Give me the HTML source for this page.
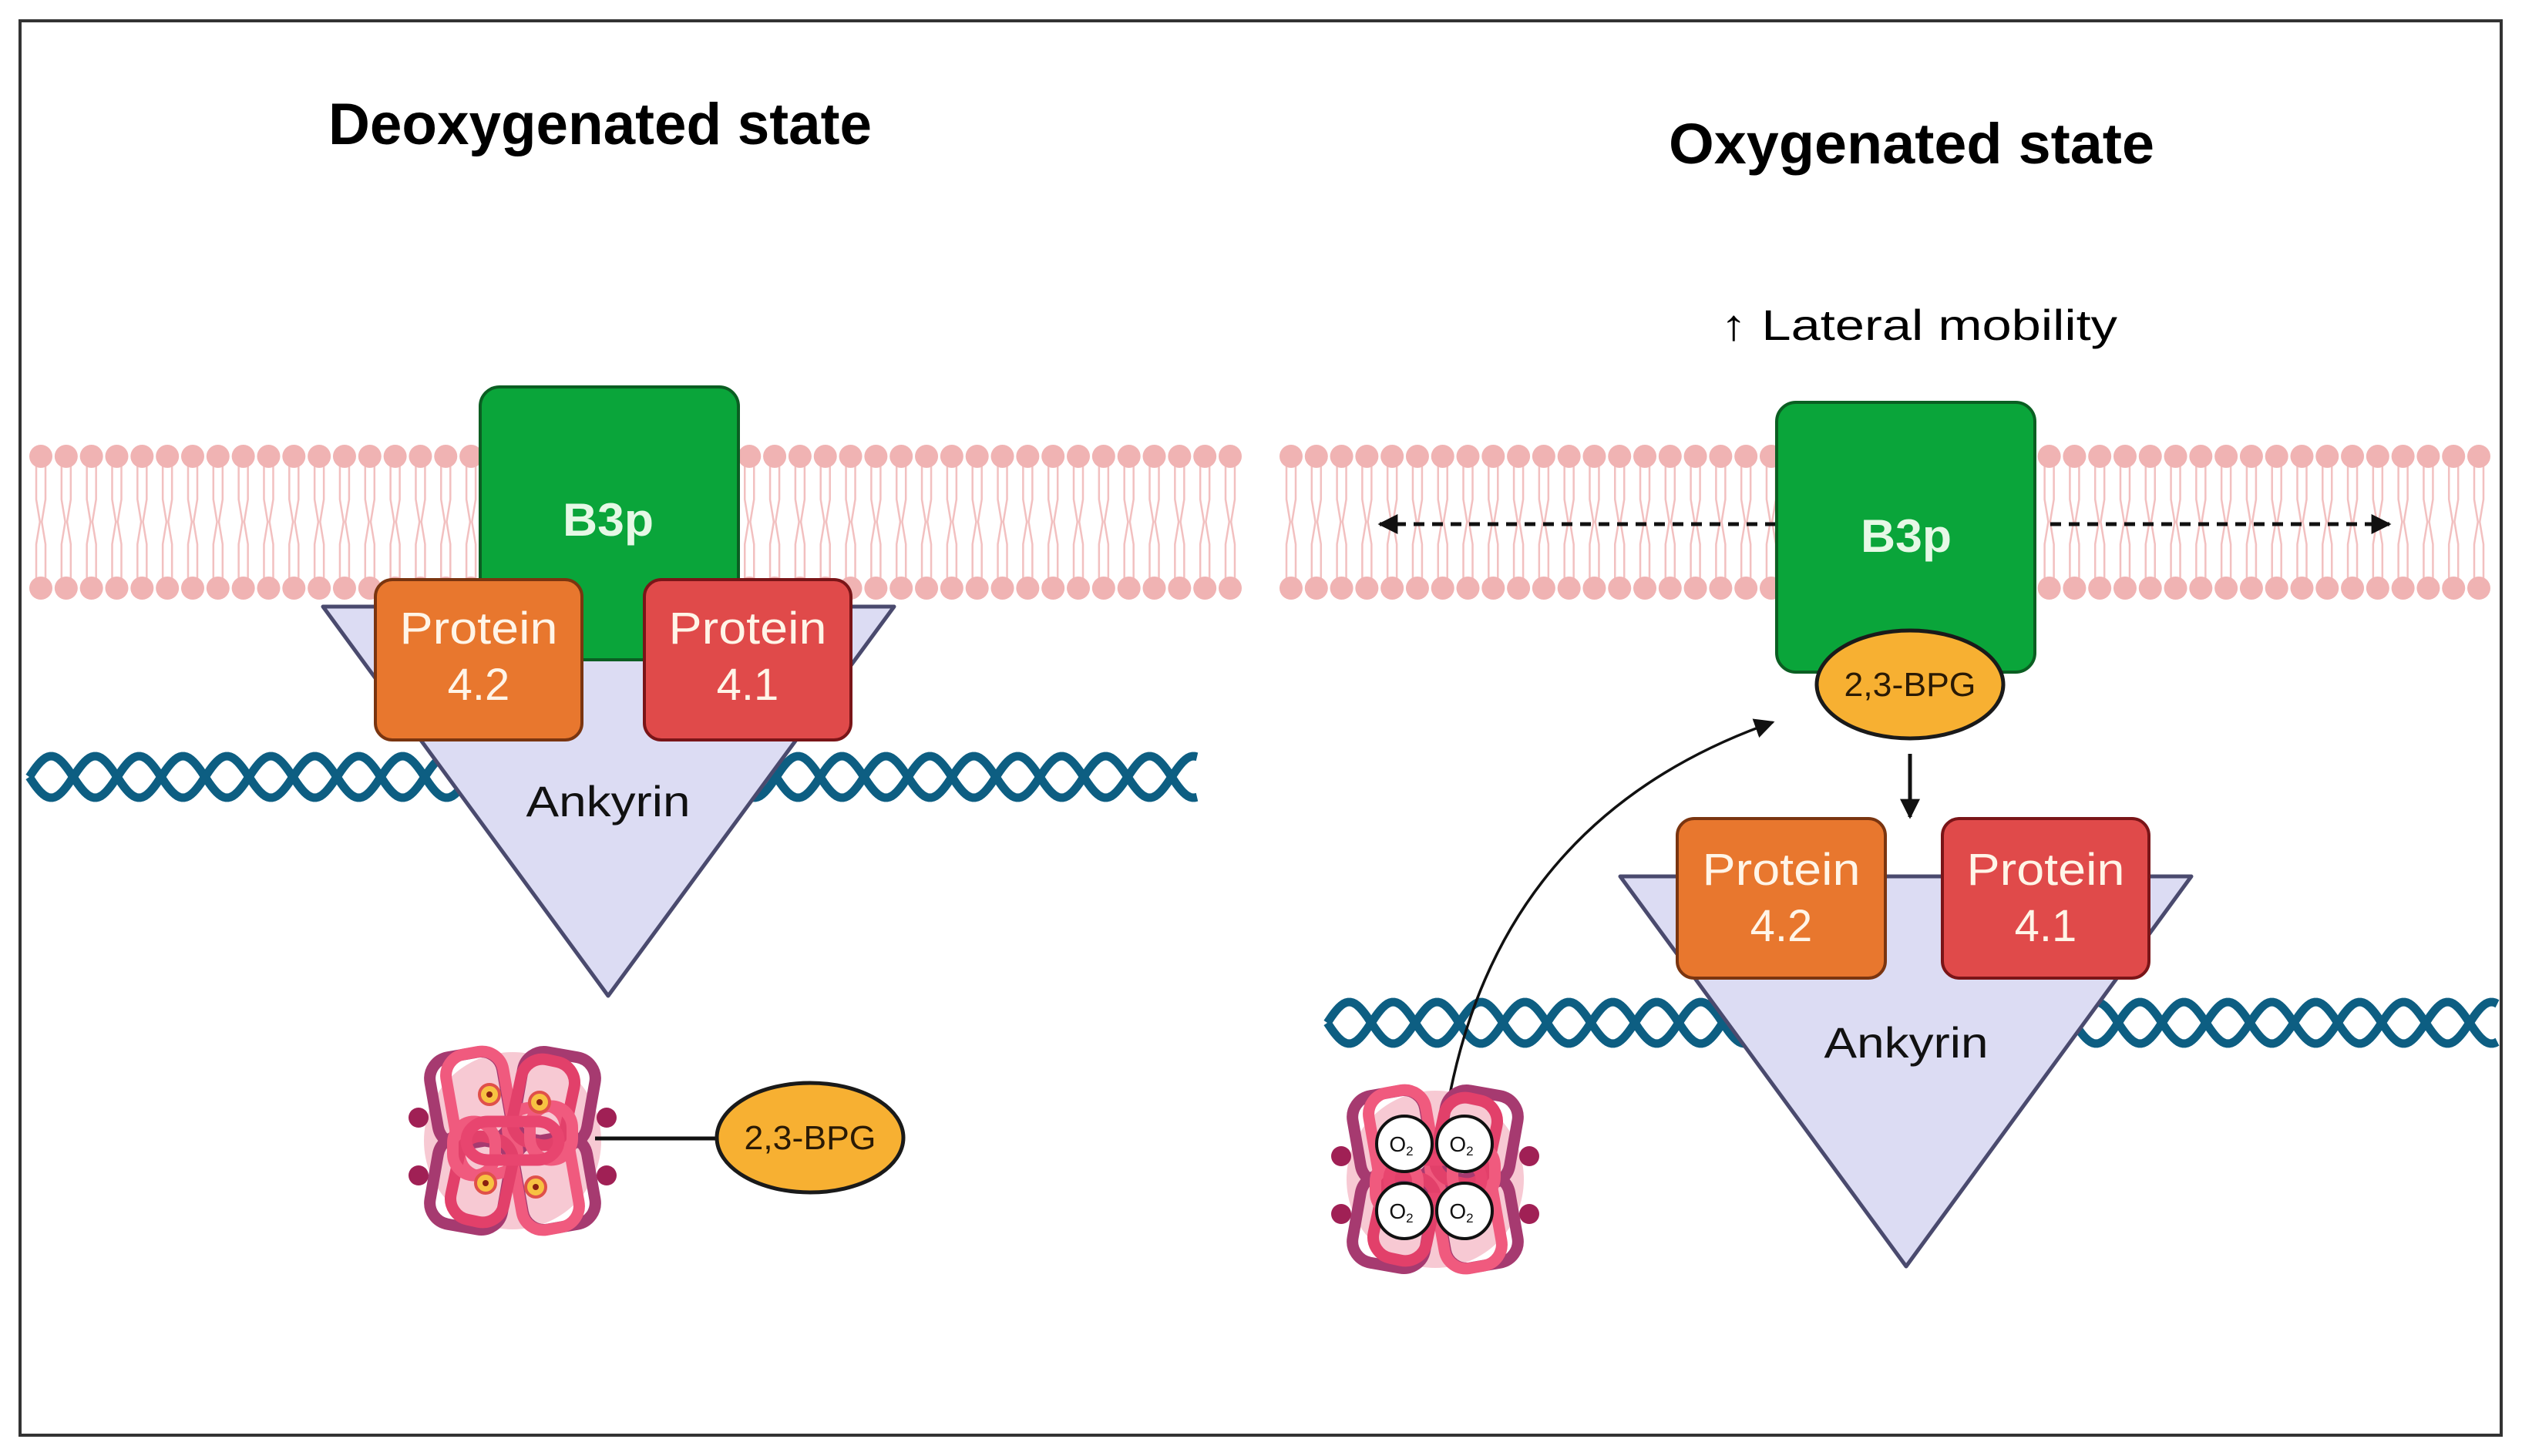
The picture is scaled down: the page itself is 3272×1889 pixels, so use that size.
<!DOCTYPE html>
<html><head><meta charset="utf-8"><style>
html,body{margin:0;padding:0;background:#fff;}
svg{display:block;}
text{font-family:"Liberation Sans",sans-serif;}
</style></head><body>
<svg id="s" width="3272" height="1889" viewBox="0 0 3272 1889" xmlns="http://www.w3.org/2000/svg">
<defs>
<marker id="ah2" viewBox="0 0 10 10" refX="9" refY="5" markerWidth="26" markerHeight="26" orient="auto" markerUnits="userSpaceOnUse"><path d="M0,0 L10,5 L0,10 z" fill="#111"/></marker>
</defs>
<rect x="0" y="0" width="3272" height="1889" fill="#fff"/>
<rect x="26" y="27" width="3219" height="1835" fill="none" stroke="#333" stroke-width="4"/>
<g id="mem"></g>
<g id="helix"></g>

<text x="426" y="187" font-size="76" font-weight="bold" textLength="705" lengthAdjust="spacingAndGlyphs">Deoxygenated state</text>
<text x="2165" y="212" font-size="74" font-weight="bold" textLength="630" lengthAdjust="spacingAndGlyphs">Oxygenated state</text>
<text x="2232" y="441" font-size="56" textLength="515" lengthAdjust="spacingAndGlyphs">↑ Lateral mobility</text>

<!-- LEFT -->
<polygon points="419,787 1160,787 789,1292" fill="#dcdcf3" stroke="#4a4a6e" stroke-width="5" stroke-linejoin="round"/>
<rect x="623" y="502" width="335" height="354" rx="25" fill="#0aa53a" stroke="#0b5e22" stroke-width="4"/>
<text x="789" y="695" font-size="60" font-weight="bold" fill="#e6f8e6" text-anchor="middle" textLength="118" lengthAdjust="spacingAndGlyphs">B3p</text>
<rect x="487" y="752" width="268" height="208" rx="22" fill="#e8772e" stroke="#7a3510" stroke-width="4"/>
<rect x="836" y="752" width="268" height="208" rx="22" fill="#e04a4a" stroke="#7a1518" stroke-width="4"/>
<g font-size="58" fill="#fff5e8" text-anchor="middle">
<text x="621" y="835" textLength="205" lengthAdjust="spacingAndGlyphs">Protein</text>
<text x="621" y="908">4.2</text>
<text x="970" y="835" textLength="205" lengthAdjust="spacingAndGlyphs">Protein</text>
<text x="970" y="908">4.1</text>
</g>
<text x="789" y="1059" font-size="56" text-anchor="middle" fill="#111" textLength="213" lengthAdjust="spacingAndGlyphs">Ankyrin</text>
<g id="hb1"></g>
<line x1="772" y1="1477" x2="930" y2="1477" stroke="#111" stroke-width="5"/>
<ellipse cx="1051" cy="1476" rx="121" ry="71" fill="#f7b032" stroke="#1a1a1a" stroke-width="5"/>
<text x="1051" y="1491" font-size="44" text-anchor="middle" fill="#2a1a05" textLength="171" lengthAdjust="spacingAndGlyphs">2,3-BPG</text>

<!-- RIGHT -->
<line x1="2304" y1="680" x2="1790" y2="680" stroke="#111" stroke-width="5" stroke-dasharray="14,10" marker-end="url(#ah2)"/>
<line x1="2660" y1="680" x2="3100" y2="680" stroke="#111" stroke-width="5" stroke-dasharray="14,10" marker-end="url(#ah2)"/>
<rect x="2305" y="522" width="335" height="350" rx="25" fill="#0aa53a" stroke="#0b5e22" stroke-width="4"/>
<text x="2473" y="716" font-size="60" font-weight="bold" fill="#e6f8e6" text-anchor="middle" textLength="118" lengthAdjust="spacingAndGlyphs">B3p</text>
<ellipse cx="2478" cy="888" rx="121" ry="70" fill="#f7b032" stroke="#1a1a1a" stroke-width="5"/>
<text x="2478" y="903" font-size="44" text-anchor="middle" fill="#2a1a05" textLength="171" lengthAdjust="spacingAndGlyphs">2,3-BPG</text>
<line x1="2478" y1="978" x2="2478" y2="1060" stroke="#111" stroke-width="5" marker-end="url(#ah2)"/>
<polygon points="2102,1137 2843,1137 2473,1643" fill="#dcdcf3" stroke="#4a4a6e" stroke-width="5" stroke-linejoin="round"/>
<rect x="2176" y="1062" width="270" height="207" rx="22" fill="#e8772e" stroke="#7a3510" stroke-width="4"/>
<rect x="2520" y="1062" width="268" height="207" rx="22" fill="#e04a4a" stroke="#7a1518" stroke-width="4"/>
<g font-size="58" fill="#fff5e8" text-anchor="middle">
<text x="2311" y="1148" textLength="205" lengthAdjust="spacingAndGlyphs">Protein</text>
<text x="2311" y="1221">4.2</text>
<text x="2654" y="1148" textLength="205" lengthAdjust="spacingAndGlyphs">Protein</text>
<text x="2654" y="1221">4.1</text>
</g>
<text x="2473" y="1372" font-size="56" text-anchor="middle" fill="#111" textLength="213" lengthAdjust="spacingAndGlyphs">Ankyrin</text>
<path d="M1880,1425 Q1950,1060 2300,937" fill="none" stroke="#111" stroke-width="3.5" marker-end="url(#ah2)"/>
<g id="hb2"></g>
<g stroke="#111" stroke-width="4" fill="#fff">
<circle cx="1822" cy="1484" r="36"/><circle cx="1900" cy="1484" r="36"/>
<circle cx="1822" cy="1571" r="36"/><circle cx="1900" cy="1571" r="36"/>
</g>
<g font-size="28" fill="#111" text-anchor="middle">
<text x="1818" y="1494">O<tspan font-size="17" dy="5">2</tspan></text>
<text x="1896" y="1494">O<tspan font-size="17" dy="5">2</tspan></text>
<text x="1818" y="1581">O<tspan font-size="17" dy="5">2</tspan></text>
<text x="1896" y="1581">O<tspan font-size="17" dy="5">2</tspan></text>
</g>
</svg>
<script>
var NS="http://www.w3.org/2000/svg";
function el(p,t,a){var e=document.createElementNS(NS,t);for(var k in a)e.setAttribute(k,a[k]);p.appendChild(e);return e;}
var mem=document.getElementById("mem");
function lipids(x0,x1){
 var n=Math.round((x1-x0)/32.5),step=(x1-x0)/n;
 for(var i=0;i<=n;i++){var x=x0+i*step;
  [-6,6].forEach(function(d){
   el(mem,"polyline",{points:(x+d)+",604 "+(x+d)+",648 "+(x+d*0.2)+",677 "+(x+d)+",706 "+(x+d)+",752",fill:"none",stroke:"#f2c0c0","stroke-width":2.5});
  });
  el(mem,"ellipse",{cx:x,cy:592,rx:15,ry:15,fill:"#f0b3b3"});
  el(mem,"ellipse",{cx:x,cy:763,rx:15,ry:15,fill:"#f0b3b3"});
 }
}
lipids(53,1596);lipids(1675,3216);
var hx=document.getElementById("helix");
function helix(x0,x1,cy){
 var A=27,P=114;
 [1,-1].forEach(function(s){
  var d="";
  for(var x=x0;x<=x1;x+=3){var y=cy+s*A*Math.sin((x-x0)*2*Math.PI/P);d+=(d?"L":"M")+x.toFixed(1)+","+y.toFixed(1);}
  el(hx,"path",{d:d,fill:"none",stroke:"#0d5e82","stroke-width":11});
 });
}
helix(38,1555,1008);helix(1722,3240,1327);
function hb(id,cx,cy,hemes){
 var g=document.getElementById(id);
 el(g,"ellipse",{cx:cx,cy:cy,rx:115,ry:115,fill:"#f7c9d3"});
 var shapes=[
  [-55,-55,95,115,-10,"#a63a70"],[55,-55,95,115,10,"#a63a70"],[-55,55,95,115,10,"#a63a70"],[55,55,95,115,-10,"#a63a70"],
  [-40,-35,75,160,-10,"#f05a7e"],[40,35,75,160,-10,"#f05a7e"],[40,-50,70,110,12,"#e2406a"],[-40,50,70,110,12,"#e2406a"],
  [-50,10,55,70,0,"#f05a7e"],[50,-10,55,70,0,"#f05a7e"],[0,0,120,50,0,"#e8456f"]
 ];
 shapes.forEach(function(s){
  el(g,"rect",{x:cx+s[0]-s[2]/2,y:cy+s[1]-s[3]/2,width:s[2],height:s[3],rx:28,fill:"none",stroke:s[5],"stroke-width":15,transform:"rotate("+s[4]+" "+(cx+s[0])+" "+(cy+s[1])+")"});
 });
 [[-122,-30],[-122,45],[122,-30],[122,45]].forEach(function(p){el(g,"circle",{cx:cx+p[0],cy:cy+p[1],r:13,fill:"#a02055"});});
 if(hemes){[[-30,-60],[35,-50],[-35,55],[30,60]].forEach(function(p){el(g,"circle",{cx:cx+p[0],cy:cy+p[1],r:13,fill:"#f7c242",stroke:"#e0504a","stroke-width":4});el(g,"circle",{cx:cx+p[0],cy:cy+p[1],r:4,fill:"#8a2010"});});}
}
hb("hb1",665,1480,true);hb("hb2",1862,1530,false);
</script>
</body></html>
